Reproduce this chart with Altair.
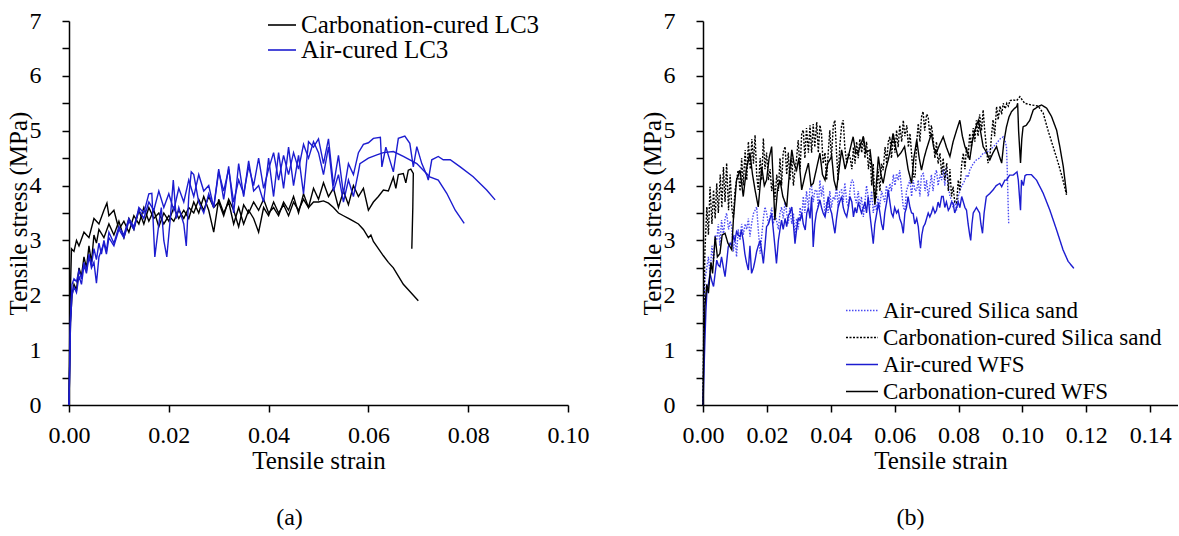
import altair as alt
import pandas as pd

SERIF = "Liberation Serif"
BLUE = "#1c1cd0"
LIGHTBLUE = "#4a4af2"

# ---------------- Panel (a): LC3 ----------------
A_CARB_1 = [(0,0),(0.0002,1.8),(0.0005,2.85),(0.001,2.8),(0.0015,3.0),(0.002,2.9),(0.003,3.15),(0.004,3.05),
    (0.005,3.4),(0.006,3.3),(0.007,3.55),(0.0076,3.68),(0.008,3.45),(0.009,3.55),(0.010,3.2),(0.011,3.35),
    (0.012,3.15),(0.013,3.45),(0.014,3.3),(0.015,3.6),(0.016,3.35),(0.017,3.55),(0.018,3.25),(0.019,3.5),
    (0.020,3.35),(0.021,3.6),(0.022,3.4),(0.023,3.55),(0.024,3.4),(0.025,3.7),(0.026,3.5),(0.027,3.8),
    (0.028,3.55),(0.029,3.15),(0.030,3.75),(0.031,3.5),(0.032,3.7),(0.033,3.3),(0.034,3.6),(0.035,3.3),
    (0.036,3.55),(0.037,3.4),(0.038,3.15),(0.039,3.6),(0.040,3.45),(0.041,3.7),(0.042,3.5),(0.043,3.65),
    (0.044,3.45),(0.045,3.7),(0.046,3.55),(0.047,3.75),(0.048,3.6),(0.049,3.7),(0.050,3.7),(0.051,3.72),
    (0.052,3.68),(0.053,3.6),(0.054,3.5),(0.055,3.45),(0.056,3.4),(0.057,3.35),(0.058,3.3),(0.059,3.2),
    (0.060,3.05),(0.0605,3.1),(0.061,2.98),(0.062,2.85),(0.063,2.72),(0.064,2.6),(0.065,2.5),(0.066,2.35),
    (0.067,2.2),(0.068,2.1),(0.069,2.0),(0.070,1.9)]

A_CARB_2 = [(0,0),(0.0003,1.5),(0.0006,2.0),(0.001,2.2),(0.0015,2.1),(0.002,2.5),(0.0025,2.35),(0.003,2.7),
    (0.0035,2.5),(0.004,2.9),(0.0045,2.6),(0.005,3.1),(0.0055,2.95),(0.006,3.2),(0.007,3.05),(0.008,3.3),
    (0.009,3.1),(0.010,3.35),(0.011,3.05),(0.012,3.4),(0.013,3.2),(0.014,3.55),(0.015,3.3),(0.016,3.6),
    (0.017,3.4),(0.018,3.5),(0.019,3.3),(0.020,3.45),(0.021,3.35),(0.022,3.55),(0.023,3.4),(0.024,3.6),
    (0.025,3.5),(0.026,3.75),(0.027,3.55),(0.028,3.8),(0.029,3.6),(0.030,3.7),(0.031,3.45),(0.032,3.75),
    (0.033,3.55),(0.034,3.25),(0.035,3.65),(0.036,3.5),(0.037,3.7),(0.038,3.55),(0.039,3.75),(0.040,3.5),
    (0.041,3.6),(0.042,3.45),(0.043,3.7),(0.044,3.55),(0.045,3.8),(0.046,3.5),(0.047,3.85),(0.048,3.6),
    (0.049,3.95),(0.050,3.75),(0.051,4.05),(0.052,3.8),(0.053,3.95),(0.054,3.6),(0.055,3.9),(0.056,3.65),
    (0.057,4.0),(0.058,3.8),(0.059,3.95),(0.060,3.55),(0.061,3.7),(0.062,3.8),(0.063,3.92),(0.064,3.9),
    (0.065,4.15),(0.0655,3.95),(0.066,4.2),(0.067,4.22),(0.0675,4.05),(0.068,4.28),(0.0685,4.3),(0.069,4.22),
    (0.0689,3.6),(0.0687,2.85)]

A_AIR_1 = [(0,0),(0.0003,1.6),(0.0006,2.2),(0.001,2.3),(0.0015,2.25),(0.002,2.45),(0.0025,2.3),(0.003,2.6),
    (0.0035,2.45),(0.004,2.75),(0.0045,2.5),(0.005,2.6),(0.0055,2.22),(0.006,2.7),(0.007,2.95),(0.0075,2.75),
    (0.008,3.05),(0.009,2.9),(0.010,3.2),(0.011,3.05),(0.012,3.35),(0.013,3.2),(0.014,3.6),(0.015,3.5),
    (0.016,3.85),(0.0166,3.86),(0.0172,2.7),(0.018,3.3),(0.0185,3.6),(0.019,3.0),(0.0196,2.7),(0.0203,3.4),
    (0.0209,4.1),(0.0215,3.4),(0.022,3.6),(0.023,3.3),(0.0235,2.9),(0.024,3.8),(0.0245,4.25),(0.025,4.2),
    (0.026,3.7),(0.027,3.5),(0.028,3.85),(0.029,3.6),(0.030,4.3),(0.031,3.75),(0.032,4.35),(0.033,3.5),
    (0.034,4.4),(0.035,3.8),(0.036,4.45),(0.037,3.9),(0.038,4.0),(0.039,3.7),(0.040,4.5),(0.041,3.8),
    (0.042,4.6),(0.043,3.95),(0.044,4.7),(0.045,4.0),(0.046,4.55),(0.047,3.85),(0.048,4.8),(0.049,4.7),
    (0.050,4.85),(0.051,4.4),(0.052,4.85),(0.053,4.0),(0.054,4.55),(0.055,3.85),(0.056,4.4),(0.057,4.2),
    (0.058,4.6),(0.059,4.75),(0.060,4.78),(0.061,4.86),(0.0624,4.88),(0.0627,4.34),(0.0635,4.7),(0.065,4.25),
    (0.066,4.86),(0.0673,4.9),(0.0683,4.77),(0.069,4.34),(0.0697,4.71),(0.0707,4.4),(0.0717,4.19),(0.072,4.1),
    (0.0727,4.47),(0.074,4.53),(0.075,4.47),(0.0764,4.47),(0.0784,4.34),(0.081,4.16),(0.0837,3.92),(0.0854,3.74)]

A_AIR_2 = [(0,0),(0.0003,1.5),(0.0006,2.0),(0.001,2.15),(0.0015,2.05),(0.002,2.35),(0.0025,2.2),(0.003,2.55),
    (0.0035,2.4),(0.004,2.7),(0.0045,2.55),(0.005,2.85),(0.0055,2.65),(0.006,2.95),(0.0065,2.75),(0.007,3.0),
    (0.0075,2.8),(0.008,3.15),(0.009,2.95),(0.010,3.25),(0.011,3.1),(0.012,3.4),(0.013,3.25),(0.014,3.55),
    (0.015,3.4),(0.016,3.7),(0.017,3.55),(0.018,3.9),(0.019,3.6),(0.020,3.85),(0.021,3.55),(0.022,3.95),
    (0.023,3.7),(0.024,4.1),(0.025,3.8),(0.026,4.2),(0.027,3.9),(0.028,4.0),(0.029,3.6),(0.030,4.25),
    (0.031,3.9),(0.032,4.3),(0.033,3.7),(0.034,4.1),(0.035,3.85),(0.036,4.35),(0.037,4.0),(0.038,4.5),
    (0.039,3.95),(0.040,4.3),(0.041,4.6),(0.042,4.1),(0.043,4.55),(0.044,4.2),(0.045,4.6),(0.046,4.3),
    (0.047,4.75),(0.048,4.5),(0.049,4.8),(0.050,4.6),(0.051,4.2),(0.052,4.7),(0.053,3.9),(0.054,4.2),
    (0.055,3.7),(0.056,4.1),(0.057,3.8),(0.058,4.25),(0.0583,4.4),(0.060,4.5),(0.0617,4.56),(0.063,4.6),
    (0.065,4.62),(0.067,4.53),(0.0697,4.4),(0.071,4.28),(0.0723,4.16),(0.074,4.1),(0.0757,3.86),
    (0.0774,3.55),(0.0792,3.31)]

# ---------------- Panel (b): Silica sand / WFS ----------------
B_CARB_WFS = [(0,0),(0.0003,1.2),(0.0006,1.8),(0.0012,2.2),(0.0017,2.04),(0.0025,2.6),(0.003,2.4),(0.0038,3.07),
    (0.0045,2.7),(0.0053,2.76),(0.006,3.1),(0.0069,3.13),(0.0078,2.95),(0.009,2.83),(0.0095,3.37),(0.0105,4.10),
    (0.0116,4.28),(0.0126,3.80),(0.0136,4.3),(0.0147,4.59),(0.0155,4.2),(0.0163,3.92),(0.0173,3.61),(0.0184,4.34),
    (0.0192,4.0),(0.0199,4.10),(0.0207,4.5),(0.0215,4.71),(0.0225,3.37),(0.0233,3.9),(0.0241,4.10),(0.025,3.8),
    (0.0262,3.61),(0.027,4.2),(0.0278,4.65),(0.0285,4.4),(0.0293,4.28),(0.030,4.5),(0.0309,3.92),(0.032,4.2),
    (0.033,4.41),(0.0338,4.0),(0.0345,4.04),(0.0355,4.3),(0.0366,4.59),(0.0374,4.2),(0.0382,4.10),(0.039,4.4),
    (0.0403,4.53),(0.041,4.1),(0.0418,3.92),(0.0426,4.3),(0.0434,4.65),(0.0445,4.3),(0.0455,4.53),(0.0462,4.7),
    (0.047,4.89),(0.0478,4.6),(0.0485,4.59),(0.0494,4.75),(0.0502,4.89),(0.051,4.6),(0.0523,4.65),(0.053,4.3),
    (0.0538,3.65),(0.0549,4.53),(0.0557,4.2),(0.0564,4.04),(0.0572,4.3),(0.058,4.47),(0.0588,4.7),(0.0595,4.95),
    (0.0603,4.7),(0.061,4.53),(0.062,4.6),(0.0631,4.71),(0.0642,4.3),(0.0653,4.04),(0.066,4.5),(0.0669,4.83),
    (0.0677,4.5),(0.0684,4.28),(0.0692,4.5),(0.0699,4.65),(0.0707,4.8),(0.0715,4.95),(0.0722,4.7),(0.073,4.59),
    (0.0741,4.75),(0.0752,4.89),(0.0762,4.7),(0.0773,4.53),(0.0783,4.8),(0.0794,5.01),(0.0804,5.19),(0.0812,4.9),
    (0.082,4.71),(0.0828,4.6),(0.0835,4.47),(0.0843,4.8),(0.0851,5.01),(0.0862,5.19),(0.087,4.95),(0.0877,4.71),
    (0.0888,4.6),(0.0898,4.47),(0.0908,4.6),(0.0919,4.71),(0.0927,4.55),(0.0935,4.41),(0.0942,4.8),(0.095,5.07),
    (0.0958,5.25),(0.0966,5.35),(0.0974,5.4),(0.0982,5.44),(0.0985,5.5),(0.0988,5.0),(0.0994,4.41),(0.0998,4.85),
    (0.1002,5.07),(0.1012,5.1),(0.1023,5.19),(0.1034,5.38),(0.1049,5.44),(0.106,5.47),(0.1076,5.41),
    (0.1091,5.26),(0.1107,5.01),(0.1117,4.71),(0.1128,4.34),(0.1138,3.86)]

B_CARB_SS = [(0,0),(0.0003,1.8),(0.0006,2.8),(0.0012,3.61),(0.0017,3.1),(0.0022,3.98),(0.0028,3.3),(0.0033,3.92),
    (0.0038,3.4),(0.0043,4.04),(0.0048,3.5),(0.0054,4.2),(0.0059,3.6),(0.0064,4.34),(0.0069,3.7),(0.0074,4.41),
    (0.008,3.55),(0.0085,4.2),(0.009,3.6),(0.0095,3.4),(0.010,3.9),(0.011,4.28),(0.0116,3.9),(0.0121,4.5),
    (0.0126,4.0),(0.0132,4.65),(0.0137,4.1),(0.0142,4.80),(0.0148,4.3),(0.0153,4.85),(0.0158,4.4),(0.0163,4.92),
    (0.0168,4.2),(0.0173,3.92),(0.0179,4.5),(0.0184,4.1),(0.0189,4.86),(0.0194,4.3),(0.0199,4.6),(0.0205,4.10),
    (0.021,4.3),(0.0215,3.9),(0.022,4.1),(0.0225,3.74),(0.0231,4.2),(0.0236,3.9),(0.0241,4.5),(0.0246,4.0),
    (0.0251,4.6),(0.0257,4.71),(0.0262,4.2),(0.0267,4.6),(0.0272,4.1),(0.0278,4.5),(0.0283,4.0),(0.0288,4.28),
    (0.0293,4.5),(0.0298,4.83),(0.0304,4.3),(0.0309,4.95),(0.0314,5.01),(0.0319,4.5),(0.0324,5.05),(0.033,4.6),
    (0.0335,5.10),(0.034,4.6),(0.0345,5.12),(0.035,4.7),(0.0356,5.16),(0.0361,4.6),(0.0366,5.1),(0.0371,4.95),
    (0.0376,4.4),(0.0382,4.6),(0.0387,4.10),(0.0392,4.6),(0.0397,5.01),(0.0402,4.5),(0.0408,5.1),(0.0413,5.19),
    (0.0418,4.6),(0.0423,4.10),(0.0428,4.7),(0.0434,5.1),(0.0439,5.19),(0.0444,4.7),(0.045,4.4),(0.0455,4.59),
    (0.046,4.53),(0.0466,4.3),(0.0471,4.7),(0.0476,4.4),(0.0481,4.8),(0.0486,4.5),(0.0491,4.85),(0.0497,4.6),
    (0.0502,4.9),(0.0507,4.5),(0.0512,4.8),(0.0518,4.3),(0.0523,4.6),(0.0528,4.0),(0.0533,4.4),(0.0538,3.7),
    (0.0543,3.80),(0.0548,4.3),(0.0554,3.9),(0.0559,4.4),(0.0564,4.28),(0.057,4.7),(0.0575,4.4),(0.058,4.8),
    (0.0585,4.89),(0.059,4.5),(0.0596,4.95),(0.0601,4.6),(0.0606,5.01),(0.0611,4.7),(0.0616,5.1),(0.0622,4.8),
    (0.0627,5.19),(0.0632,4.9),(0.0638,5.1),(0.0643,4.7),(0.0648,4.95),(0.0654,4.5),(0.0659,4.16),(0.0664,4.16),
    (0.0669,4.8),(0.0674,5.13),(0.0679,4.8),(0.0684,5.25),(0.0689,5.35),(0.0694,5.0),(0.07,5.3),(0.0705,5.25),
    (0.071,4.9),(0.0715,5.1),(0.072,4.89),(0.0726,4.5),(0.0731,4.8),(0.0736,4.4),(0.0742,4.59),(0.0747,4.2),
    (0.0752,4.5),(0.0757,4.1),(0.0763,4.41),(0.0768,3.9),(0.0773,4.3),(0.0778,3.8),(0.0783,3.98),(0.0788,3.7),
    (0.0794,3.68),(0.0799,4.1),(0.0804,3.9),(0.081,4.4),(0.0815,4.59),(0.082,4.3),(0.0825,4.7),(0.083,4.5),
    (0.0835,4.95),(0.084,4.7),(0.0846,5.05),(0.0851,4.8),(0.0856,5.19),(0.0861,4.9),(0.0866,5.3),(0.0872,5.0),
    (0.0877,5.38),(0.0882,5.0),(0.0887,4.7),(0.0892,4.41),(0.0898,4.5),(0.0903,4.9),(0.0908,5.2),(0.0913,4.9),
    (0.0919,5.44),(0.0924,5.2),(0.093,5.45),(0.0935,5.3),(0.094,5.5),(0.0946,5.4),(0.0951,5.5),(0.0956,5.45),
    (0.0961,5.55),(0.0971,5.56),(0.0982,5.55),(0.0992,5.62),(0.1007,5.5),(0.1028,5.47),(0.1049,5.45),
    (0.1065,5.32),(0.108,5.01),(0.1096,4.71),(0.1112,4.41),(0.1127,4.10),(0.1138,3.83)]

B_AIR_SS = [(0,0),(0.0003,1.5),(0.0006,2.28),(0.0012,2.5),(0.0017,2.70),(0.0022,2.4),(0.0028,2.9),(0.0033,2.6),
    (0.0038,3.1),(0.0043,3.0),(0.0048,3.3),(0.0053,2.9),(0.0058,3.37),(0.0064,3.1),(0.0069,3.4),(0.0074,3.5),
    (0.008,3.2),(0.0085,3.35),(0.009,3.25),(0.0095,2.8),(0.010,3.1),(0.0105,2.7),(0.011,3.2),(0.0116,3.0),
    (0.0121,3.3),(0.0126,3.1),(0.0132,3.3),(0.0137,3.2),(0.0142,3.4),(0.0147,3.07),(0.0152,3.3),(0.0158,3.49),
    (0.0163,3.55),(0.0168,3.61),(0.0173,3.2),(0.0179,2.76),(0.0184,3.1),(0.0189,3.4),(0.0194,3.61),(0.0199,3.5),
    (0.0205,3.3),(0.021,3.43),(0.0215,3.6),(0.022,3.3),(0.0225,3.5),(0.023,3.37),(0.0236,3.2),(0.0241,3.5),
    (0.0246,3.61),(0.0251,3.4),(0.0257,3.7),(0.0262,3.5),(0.0267,3.31),(0.0272,3.6),(0.0278,3.3),(0.0283,3.5),
    (0.0288,3.07),(0.0293,3.4),(0.0298,3.2),(0.0304,3.6),(0.0309,3.4),(0.0314,3.8),(0.0319,3.5),(0.0324,3.9),
    (0.033,3.6),(0.0335,3.95),(0.034,3.98),(0.0345,3.7),(0.035,3.9),(0.0356,3.92),(0.0361,3.6),(0.0366,4.10),
    (0.0371,3.8),(0.0376,4.0),(0.0382,3.43),(0.0387,3.7),(0.0392,3.5),(0.0397,3.9),(0.0402,3.6),(0.0408,3.8),
    (0.0413,3.74),(0.0418,4.0),(0.0423,3.6),(0.0428,3.9),(0.0434,3.92),(0.0439,3.7),(0.0444,4.05),(0.045,3.7),
    (0.0455,3.61),(0.046,3.9),(0.0465,4.1),(0.047,4.10),(0.0475,3.8),(0.048,3.68),(0.0486,3.9),(0.0491,3.6),
    (0.0496,3.8),(0.0502,3.43),(0.0507,3.7),(0.0512,4.0),(0.0517,3.8),(0.0522,3.6),(0.0528,3.9),(0.0533,3.5),
    (0.0538,3.7),(0.0543,3.55),(0.0548,3.8),(0.0553,3.6),(0.0559,3.9),(0.0564,3.80),(0.0569,3.7),(0.0574,4.0),
    (0.058,3.8),(0.0585,4.04),(0.059,3.9),(0.0596,4.2),(0.0601,4.0),(0.0606,4.22),(0.0611,4.1),(0.0616,4.28),
    (0.0622,3.9),(0.0627,3.6),(0.0632,3.55),(0.0637,3.9),(0.0642,4.0),(0.0648,4.10),(0.0653,3.8),(0.0658,4.1),
    (0.0664,3.9),(0.0669,3.92),(0.0674,4.1),(0.0679,3.8),(0.0684,4.2),(0.069,4.22),(0.0695,3.9),(0.07,4.1),
    (0.0705,3.8),(0.071,3.98),(0.0715,4.2),(0.072,3.9),(0.0726,4.2),(0.0731,4.28),(0.0736,4.0),(0.0742,4.2),
    (0.0747,4.10),(0.0752,4.3),(0.0757,4.0),(0.0762,4.34),(0.0768,4.0),(0.0773,3.8),(0.0778,3.74),(0.0783,3.6),
    (0.0789,3.7),(0.0794,3.55),(0.0799,3.8),(0.0804,3.9),(0.081,4.0),(0.0815,4.04),(0.082,4.1),(0.0825,4.2),
    (0.083,4.15),(0.0835,4.28),(0.0846,4.4),(0.0856,4.47),(0.0866,4.5),(0.0877,4.59),(0.0888,4.6),(0.0898,4.65),
    (0.0908,4.7),(0.0919,4.77),(0.093,4.85),(0.094,4.89),(0.0945,4.83),(0.095,4.71),(0.0953,4.2),(0.0955,3.7),
    (0.0957,3.31)]

B_AIR_WFS = [(0,0),(0.0003,0.6),(0.0006,1.18),(0.0009,1.7),(0.0012,2.04),(0.0017,2.2),(0.0022,2.40),(0.0028,2.25),
    (0.0033,2.16),(0.0038,2.4),(0.0043,2.64),(0.0048,2.55),(0.0053,2.52),(0.0058,2.7),(0.0064,2.5),(0.0069,2.34),
    (0.0074,2.6),(0.0079,2.88),(0.0085,2.95),(0.009,2.9),(0.0095,3.07),(0.010,3.0),(0.0105,3.16),(0.011,3.1),
    (0.0116,3.07),(0.012,3.19),(0.0126,3.0),(0.0131,2.76),(0.0136,2.6),(0.0142,2.46),(0.0147,2.9),(0.0152,2.40),
    (0.0158,2.5),(0.0163,2.64),(0.0168,2.8),(0.0173,2.9),(0.0179,3.0),(0.0184,2.8),(0.0189,2.58),(0.0194,2.9),
    (0.0199,3.25),(0.0205,3.3),(0.021,3.4),(0.0215,3.49),(0.022,3.2),(0.0225,2.9),(0.023,2.58),(0.0236,3.0),
    (0.0241,3.2),(0.0246,3.37),(0.0251,3.2),(0.0257,3.4),(0.0262,3.25),(0.0267,3.45),(0.0272,3.5),(0.0278,3.61),
    (0.0283,3.3),(0.0288,2.94),(0.0293,3.2),(0.0298,3.4),(0.0304,3.37),(0.0309,3.5),(0.0314,3.3),(0.032,3.19),
    (0.0325,3.5),(0.033,3.6),(0.0335,3.4),(0.034,3.80),(0.0345,2.88),(0.035,3.3),(0.0355,3.5),(0.036,3.6),
    (0.0366,3.74),(0.0371,3.6),(0.0376,3.5),(0.0382,3.43),(0.0387,3.6),(0.0392,3.8),(0.0397,3.6),(0.0403,3.49),
    (0.0408,3.3),(0.0413,3.13),(0.0418,3.4),(0.0423,3.6),(0.0428,3.7),(0.0434,3.80),(0.0439,3.6),(0.0444,3.5),
    (0.045,3.43),(0.0455,3.6),(0.046,3.8),(0.0466,3.7),(0.0471,3.43),(0.0476,3.6),(0.0481,3.5),(0.0486,3.68),
    (0.0491,3.6),(0.0496,3.5),(0.0502,3.6),(0.0507,3.7),(0.0512,3.5),(0.0517,3.80),(0.0522,3.5),(0.0528,3.2),
    (0.0533,2.94),(0.0538,3.3),(0.0544,3.5),(0.0549,3.68),(0.0554,3.5),(0.0559,3.3),(0.0564,3.19),(0.0569,3.5),
    (0.0575,3.7),(0.058,3.92),(0.0585,3.7),(0.059,3.5),(0.0595,3.43),(0.06,3.6),(0.0606,3.5),(0.0611,3.55),
    (0.0616,3.4),(0.0622,3.3),(0.0627,3.13),(0.0632,3.5),(0.0637,3.6),(0.0642,3.80),(0.0648,3.6),(0.0653,3.5),
    (0.0658,3.49),(0.0663,3.3),(0.0669,3.4),(0.0674,3.25),(0.0678,3.0),(0.0681,2.86),(0.0685,3.1),(0.069,3.25),
    (0.0695,3.3),(0.07,3.4),(0.0705,3.5),(0.071,3.43),(0.0715,3.5),(0.072,3.6),(0.0726,3.5),(0.0731,3.55),
    (0.0736,3.7),(0.0741,3.6),(0.0747,3.8),(0.0752,3.80),(0.0757,3.6),(0.0762,3.7),(0.0768,3.55),(0.0773,3.6),
    (0.0778,3.7),(0.0783,3.68),(0.0788,3.5),(0.0794,3.6),(0.0799,3.7),(0.0804,3.6),(0.081,3.80),(0.0815,3.7),
    (0.082,3.6),(0.0825,3.55),(0.083,3.3),(0.0835,3.1),(0.0838,3.0),(0.0842,3.3),(0.0846,3.5),(0.0851,3.55),
    (0.0856,3.6),(0.0861,3.55),(0.0866,3.5),(0.087,3.3),(0.0875,3.13),(0.088,3.5),(0.0887,3.80),(0.0897,3.85),
    (0.0908,3.92),(0.0918,4.0),(0.0929,4.04),(0.0935,3.98),(0.0945,4.10),(0.095,4.1),(0.096,4.19),(0.0971,4.19),
    (0.0983,4.25),(0.0987,4.1),(0.099,3.86),(0.0992,3.7),(0.0994,3.55),(0.0997,4.10),(0.1003,4.0),(0.1008,4.18),
    (0.1013,4.2),(0.1028,4.2),(0.1044,4.1),(0.1065,3.86),(0.1086,3.55),(0.1107,3.19),(0.1127,2.83),
    (0.1143,2.62),(0.1161,2.49)]

SERIES_A = ["Carbonation-cured LC3", "Air-cured LC3"]
SERIES_B = ["Air-cured Silica sand", "Carbonation-cured Silica sand", "Air-cured WFS", "Carbonation-cured WFS"]
X_TICKS_A = [0.00, 0.02, 0.04, 0.06, 0.08, 0.10]
X_TICKS_B = [0.00, 0.02, 0.04, 0.06, 0.08, 0.10, 0.12, 0.14]
Y_TICKS = [0, 0.5, 1, 1.5, 2, 2.5, 3, 3.5, 4, 4.5, 5, 5.5, 6, 6.5, 7]


def frame(curves):
    rows = []
    for series, spec, pts in curves:
        for i, (x, y) in enumerate(pts):
            rows.append({"series": series, "specimen": spec, "i": i, "strain": x, "stress": y})
    return pd.DataFrame(rows)


df_a = frame([
    (SERIES_A[0], "c1", A_CARB_1), (SERIES_A[0], "c2", A_CARB_2),
    (SERIES_A[1], "a1", A_AIR_1), (SERIES_A[1], "a2", A_AIR_2),
])
df_b = frame([
    (SERIES_B[0], "ass", B_AIR_SS), (SERIES_B[1], "css", B_CARB_SS),
    (SERIES_B[2], "awfs", B_AIR_WFS), (SERIES_B[3], "cwfs", B_CARB_WFS),
])


def y_axis():
    return alt.Axis(values=Y_TICKS,
                    labelExpr="datum.value % 1 === 0 ? format(datum.value, 'd') : ''",
                    title="Tensile stress (MPa)", labelPadding=21, titleX=-38, labelFlush=False,
                    tickSize=7)


def x_axis(vals):
    return alt.Axis(values=vals, format=".2f", title="Tensile strain", labelFlush=False,
                    labelPadding=11, titlePadding=1, tickSize=7)


def legend(x, y, size, clip, symlen, rowpad):
    return alt.Legend(title=None, orient="none", legendX=x, legendY=y, symbolType="stroke",
                      symbolSize=symlen * symlen, symbolStrokeWidth=1.6, labelFont=SERIF,
                      labelFontSize=size, labelColor="black", labelOffset=4, rowPadding=rowpad,
                      clipHeight=clip, labelLimit=400)


panel_a = alt.Chart(df_a).mark_line(strokeWidth=1.4).encode(
    x=alt.X("strain:Q", scale=alt.Scale(domain=[0, 0.10], nice=False), axis=x_axis(X_TICKS_A)),
    y=alt.Y("stress:Q", scale=alt.Scale(domain=[0, 7], nice=False), axis=y_axis()),
    color=alt.Color("series:N", scale=alt.Scale(domain=SERIES_A, range=["#000000", BLUE]),
                    legend=legend(198, -7, 25, 22, 28, 0)),
    detail="specimen:N",
    order=alt.Order("i:Q"),
).properties(width=499, height=384,
             title=alt.Title("(a)", orient="bottom", fontSize=24, font=SERIF, fontWeight="normal",
                             offset=33, dx=-29, color="black"))

panel_b = alt.Chart(df_b).mark_line(strokeWidth=1.4).encode(
    x=alt.X("strain:Q", scale=alt.Scale(domain=[0, 0.1487], nice=False), axis=x_axis(X_TICKS_B)),
    y=alt.Y("stress:Q", scale=alt.Scale(domain=[0, 7], nice=False), axis=y_axis()),
    color=alt.Color("series:N", scale=alt.Scale(domain=SERIES_B, range=[LIGHTBLUE, "#000000", BLUE, "#000000"]),
                    legend=legend(142, 278, 23, 23, 32, 3)),
    strokeDash=alt.StrokeDash("series:N", scale=alt.Scale(domain=SERIES_B,
                              range=[[1.5, 1.5], [2, 1.5], [1, 0], [1, 0]])),
    detail="specimen:N",
    order=alt.Order("i:Q"),
).properties(width=475, height=384,
             title=alt.Title("(b)", orient="bottom", fontSize=24, font=SERIF, fontWeight="normal",
                             offset=33, dx=-30, color="black"))

chart = alt.hconcat(panel_a, panel_b, spacing=51).resolve_scale(
    color="independent", strokeDash="independent"
).resolve_legend(color="independent", strokeDash="independent").properties(
    padding={"left": 6, "top": 9, "right": 0, "bottom": 0}
).configure_view(stroke=None).configure_axis(
    grid=False, domainColor="black", domainWidth=1.5, tickColor="black", tickWidth=1.5,
    labelFont=SERIF, labelFontSize=24, labelColor="black",
    titleFont=SERIF, titleFontSize=25, titleFontWeight="normal", titleColor="black",
).configure_title(font=SERIF)

chart.save("out.html", embed_options={"renderer": "svg", "actions": False})
